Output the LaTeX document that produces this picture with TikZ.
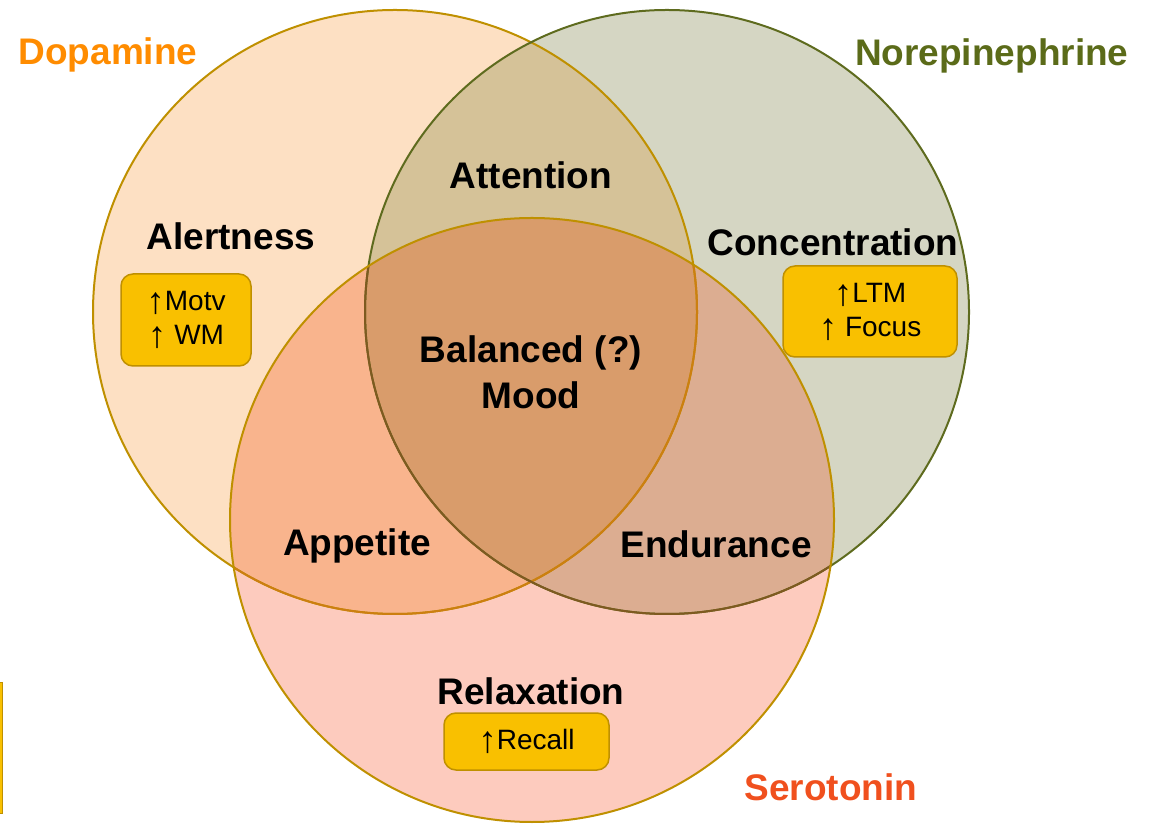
\documentclass[tikz,border=0pt]{standalone}
\usepackage{fontspec}
\setmainfont{Liberation Sans}
\definecolor{DopaFill}{HTML}{FDE0C3}
\definecolor{NoreFill}{HTML}{D5D6C3}
\definecolor{SeroFill}{HTML}{FDCBBE}
\definecolor{DopaNore}{HTML}{D5C298}
\definecolor{DopaSero}{HTML}{F9B48D}
\definecolor{NoreSero}{HTML}{DCAD91}
\definecolor{AllThree}{HTML}{D99C6B}
\definecolor{GoldEdge}{HTML}{BF9000}
\definecolor{OliveEdge}{HTML}{5E6B1E}
\definecolor{AmberEdge}{HTML}{CC7F10}
\definecolor{BrownEdge}{HTML}{7E5A20}
\definecolor{GoldBox}{HTML}{F9C000}
\definecolor{DopaText}{HTML}{FF8C00}
\definecolor{NoreText}{HTML}{5B6B19}
\definecolor{SeroText}{HTML}{F0501E}
\newcommand{\uparr}{\raisebox{-3pt}{\fontsize{37}{33}\selectfont ↑}}

\begin{document}
\begin{tikzpicture}[x=1pt,y=1pt,
  zone/.style={font=\fontsize{37}{40}\selectfont\bfseries, anchor=base},
  tag/.style={draw=GoldEdge, fill=GoldBox, line width=1.5pt, rounded corners=12pt, font=\fontsize{28}{34}\selectfont, align=center, inner sep=0pt},
  rim/.style={line width=2pt}]
\useasboundingbox (0,0) rectangle (1155,824);
\coordinate (dopa) at (395,512);
\coordinate (nore) at (667,512);
\coordinate (sero) at (532,304);
\fill[DopaFill] (dopa) circle (302);
\fill[NoreFill] (nore) circle (302);
\fill[SeroFill] (sero) circle (302);
\begin{scope}
\clip (dopa) circle (302);
\fill[DopaNore] (nore) circle (302);
\fill[DopaSero] (sero) circle (302);
\end{scope}
\begin{scope}
\clip (nore) circle (302);
\fill[NoreSero] (sero) circle (302);
\end{scope}
\begin{scope}
\clip (dopa) circle (302);
\clip (nore) circle (302);
\fill[AllThree] (sero) circle (302);
\end{scope}
\draw[rim, GoldEdge] (dopa) circle (302);
\draw[rim, OliveEdge] (nore) circle (302);
\begin{scope}
\clip (sero) circle (302);
\draw[rim, AmberEdge] (dopa) circle (302);
\draw[rim, BrownEdge] (nore) circle (302);
\end{scope}
\draw[rim, GoldEdge] (sero) circle (302);
\fill[GoldBox, draw=GoldEdge, line width=1pt] (-2,11) rectangle (2.5,141);
\node[zone, text=DopaText, anchor=base west] (dopaname) at (15,759) {Dopamine};
\node[zone, text=NoreText, anchor=base east] (norename) at (1132,758) {Norepinephrine};
\node[zone, text=SeroText] (seroname) at (831,24) {Serotonin};
\node[zone] (attention) at (531,635) {Attention};
\node[zone] (alertness) at (231,574) {Alertness};
\node[zone] (concentration) at (833,568) {Concentration};
\node[zone] (balanced) at (531,461) {Balanced (?)};
\node[zone] (mood) at (531,415) {Mood};
\node[zone] (appetite) at (357,268) {Appetite};
\node[zone] (endurance) at (716,266) {Endurance};
\node[zone] (relaxation) at (531,120) {Relaxation};
\node[tag, minimum width=130, minimum height=92] (motv) at (186,504) {\uparr Motv\\\uparr\ WM};
\node[tag, minimum width=174, minimum height=91] (ltm) at (870,512.5) {\uparr LTM\\\uparr\ Focus};
\node[tag, minimum width=165, minimum height=57] (recall) at (526.5,82.5) {\uparr Recall};
\end{tikzpicture}
\end{document}
